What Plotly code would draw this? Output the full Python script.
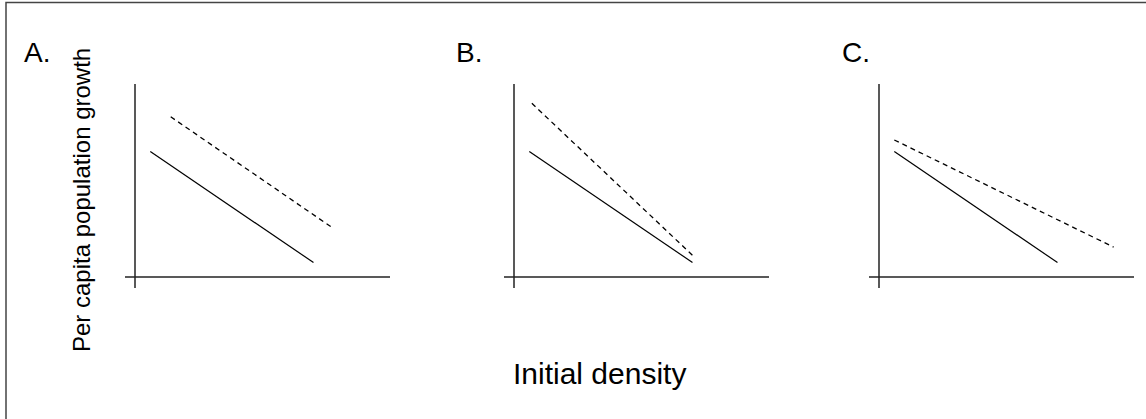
import plotly.graph_objects as go

W, H = 1146, 419

# Data (arbitrary units: initial density vs per capita growth)
panels = ["A.", "B.", "C."]
solid_x = [[0.6, 7.0], [0.6, 7.0], [0.6, 7.0]]
solid_y = [[6.5, 0.75], [6.5, 0.75], [6.5, 0.75]]
dash_x = [[1.4, 7.8], [0.7, 7.1], [0.6, 9.2]]
dash_y = [[8.3, 2.5], [9.0, 1.0], [7.1, 1.55]]

x_label = "Initial density"
y_label = "Per capita population growth"

# layout in pixels
origins_px = [135, 514, 879]
origin_y_px = 277
px_per_x = 25.5
px_per_y = 19.3
xr = [-0.5, 10.2]
yr = [-1.0, 10.5]

fig = go.Figure()
layout = dict(
    width=W, height=H, margin=dict(l=0, r=0, t=0, b=0),
    paper_bgcolor="white", plot_bgcolor="white", showlegend=False,
    font=dict(family="Liberation Sans, Arial, sans-serif", color="black"),
)

ybot = origin_y_px - yr[0] * px_per_y
ytop = origin_y_px - yr[1] * px_per_y
ydom = [(H - ybot) / H, (H - ytop) / H]

shapes = []
annotations = []
for i, ox in enumerate(origins_px):
    xa = "x" if i == 0 else f"x{i+1}"
    ya = "y" if i == 0 else f"y{i+1}"
    left = ox + xr[0] * px_per_x
    right = ox + xr[1] * px_per_x
    key = "" if i == 0 else str(i + 1)
    layout["xaxis" + key] = dict(domain=[left / W, right / W], range=xr, visible=False,
                                 anchor=ya, fixedrange=True)
    layout["yaxis" + key] = dict(domain=ydom, range=yr, visible=False,
                                 anchor=xa, fixedrange=True)
    # axis lines
    shapes.append(dict(type="line", xref=xa, yref=ya, x0=-10 / px_per_x, x1=10.0, y0=0, y1=0,
                       line=dict(color="#222", width=1.5)))
    shapes.append(dict(type="line", xref=xa, yref=ya, x0=0, x1=0, y0=-11 / px_per_y, y1=10.0,
                       line=dict(color="#222", width=1.5)))
    fig.add_trace(go.Scatter(x=solid_x[i], y=solid_y[i], mode="lines", xaxis=xa, yaxis=ya,
                             line=dict(color="black", width=1.2), hoverinfo="skip"))
    fig.add_trace(go.Scatter(x=dash_x[i], y=dash_y[i], mode="lines", xaxis=xa, yaxis=ya,
                             line=dict(color="black", width=1.3, dash="5px,4px"), hoverinfo="skip"))

label_x_px = [37, 469, 856]
for lab, lx in zip(panels, label_x_px):
    annotations.append(dict(text=lab, xref="paper", yref="paper", x=lx / W, y=1 - 53 / H,
                            xanchor="center", yanchor="middle", showarrow=False,
                            font=dict(size=28)))

annotations.append(dict(text=x_label, xref="paper", yref="paper", x=599 / W, y=1 - 373 / H,
                        xanchor="center", yanchor="middle", showarrow=False,
                        font=dict(size=30)))
annotations.append(dict(text=y_label, xref="paper", yref="paper", x=82 / W, y=1 - 200 / H,
                        xanchor="center", yanchor="middle", showarrow=False, textangle=-90,
                        font=dict(size=24)))

# outer border (only left and top visible in the cropped original)
shapes.append(dict(type="rect", xref="paper", yref="paper", x0=6 / W, x1=1.02, y0=-0.02, y1=1 - 2.5 / H,
                   line=dict(color="#444", width=1.5)))

layout["shapes"] = shapes
layout["annotations"] = annotations
fig.update_layout(**layout)
fig.write_html("out.html")
